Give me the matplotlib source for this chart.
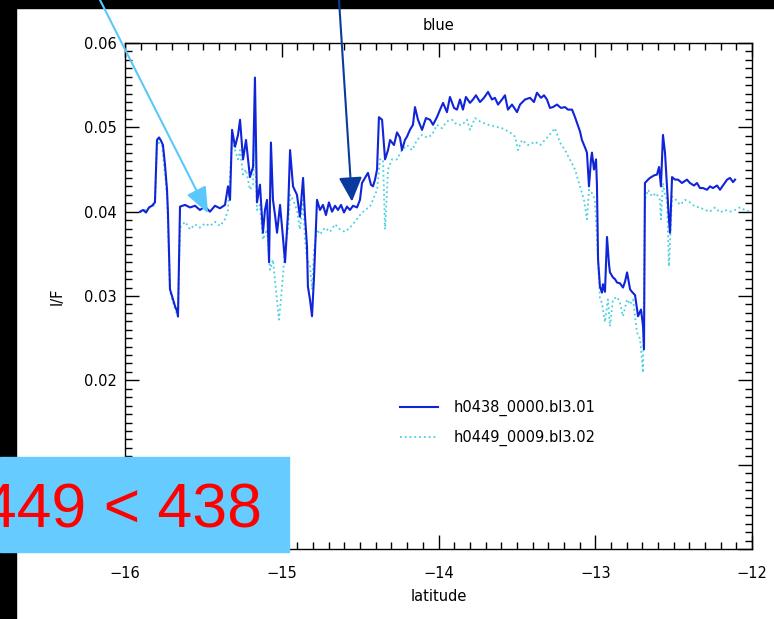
import matplotlib
matplotlib.use("Agg")
import matplotlib.pyplot as plt
from matplotlib.ticker import MultipleLocator, FixedFormatter
from matplotlib.patches import Rectangle

# h0438_0000.bl3.01 (solid)
lat_0438 = [-15.904, -15.885, -15.866, -15.847, -15.828, -15.809, -15.796, -15.783, -15.770, -15.758,
            -15.745, -15.732, -15.726, -15.713, -15.694, -15.681, -15.668, -15.662, -15.649, -15.617,
            -15.585, -15.553, -15.522, -15.490, -15.458, -15.426, -15.394, -15.362, -15.343, -15.330,
            -15.317, -15.298, -15.279, -15.266, -15.247, -15.228, -15.203, -15.183, -15.171, -15.158,
            -15.139, -15.120, -15.107, -15.094, -15.081, -15.069, -15.056, -15.043, -15.030, -15.011,
            -14.992, -14.979, -14.960, -14.947, -14.928, -14.903, -14.884, -14.864, -14.852, -14.839,
            -14.833, -14.820, -14.807, -14.794, -14.775, -14.756, -14.737, -14.718, -14.699, -14.679,
            -14.660, -14.641, -14.622, -14.603, -14.584, -14.565, -14.545, -14.520, -14.501, -14.488,
            -14.469, -14.450, -14.431, -14.418, -14.405, -14.392, -14.380, -14.360, -14.341, -14.322,
            -14.309, -14.284, -14.265, -14.246, -14.233, -14.214, -14.201, -14.182, -14.163, -14.150,
            -14.131, -14.105, -14.080, -14.054, -14.035, -14.010, -13.990, -13.971, -13.946, -13.927,
            -13.901, -13.882, -13.863, -13.844, -13.825, -13.799, -13.780, -13.761, -13.735, -13.710,
            -13.684, -13.659, -13.640, -13.620, -13.595, -13.576, -13.557, -13.531, -13.499, -13.480,
            -13.448, -13.416, -13.391, -13.372, -13.346, -13.327, -13.308, -13.289, -13.270, -13.244,
            -13.219, -13.193, -13.174, -13.148, -13.129, -13.116, -13.097, -13.085, -13.065, -13.053,
            -13.040, -13.027, -13.021, -13.008, -12.995, -12.989, -12.982, -12.970, -12.957, -12.951,
            -12.938, -12.925, -12.912, -12.906, -12.887, -12.874, -12.861, -12.842, -12.823, -12.810,
            -12.797, -12.778, -12.766, -12.746, -12.727, -12.708, -12.695, -12.689, -12.683, -12.663,
            -12.651, -12.625, -12.606, -12.593, -12.581, -12.568, -12.555, -12.542, -12.530, -12.523,
            -12.510, -12.491, -12.472, -12.447, -12.415, -12.396, -12.370, -12.351, -12.332, -12.313,
            -12.287, -12.268, -12.249, -12.223, -12.204, -12.185, -12.159, -12.140, -12.121, -12.108]
if_0438 = [0.0400, 0.0402, 0.0399, 0.0405, 0.0407, 0.0411, 0.0485, 0.0488, 0.0484, 0.0479,
           0.0456, 0.0426, 0.0399, 0.0308, 0.0296, 0.0288, 0.0282, 0.0276, 0.0406, 0.0408,
           0.0405, 0.0407, 0.0402, 0.0406, 0.0400, 0.0407, 0.0404, 0.0408, 0.0430, 0.0414,
           0.0497, 0.0477, 0.0491, 0.0509, 0.0462, 0.0485, 0.0441, 0.0453, 0.0559, 0.0411,
           0.0432, 0.0375, 0.0402, 0.0414, 0.0340, 0.0482, 0.0414, 0.0396, 0.0375, 0.0408,
           0.0369, 0.0340, 0.0399, 0.0473, 0.0430, 0.0420, 0.0394, 0.0440, 0.0396, 0.0359,
           0.0311, 0.0296, 0.0276, 0.0323, 0.0414, 0.0402, 0.0408, 0.0396, 0.0411, 0.0400,
           0.0407, 0.0402, 0.0408, 0.0399, 0.0406, 0.0402, 0.0407, 0.0405, 0.0414, 0.0434,
           0.0440, 0.0446, 0.0432, 0.0430, 0.0438, 0.0450, 0.0512, 0.0509, 0.0462, 0.0473,
           0.0485, 0.0479, 0.0494, 0.0488, 0.0473, 0.0485, 0.0489, 0.0497, 0.0503, 0.0524,
           0.0509, 0.0497, 0.0511, 0.0509, 0.0503, 0.0512, 0.0521, 0.0529, 0.0518, 0.0536,
           0.0523, 0.0521, 0.0533, 0.0521, 0.0536, 0.0529, 0.0533, 0.0538, 0.0530, 0.0535,
           0.0542, 0.0533, 0.0535, 0.0527, 0.0533, 0.0538, 0.0521, 0.0527, 0.0518, 0.0527,
           0.0533, 0.0535, 0.0530, 0.0541, 0.0535, 0.0538, 0.0533, 0.0523, 0.0524, 0.0527,
           0.0523, 0.0524, 0.0521, 0.0521, 0.0512, 0.0505, 0.0495, 0.0485, 0.0476, 0.0470,
           0.0430, 0.0462, 0.0470, 0.0450, 0.0462, 0.0430, 0.0343, 0.0311, 0.0304, 0.0314,
           0.0305, 0.0370, 0.0337, 0.0328, 0.0322, 0.0320, 0.0316, 0.0315, 0.0310, 0.0317,
           0.0328, 0.0308, 0.0305, 0.0301, 0.0276, 0.0284, 0.0264, 0.0237, 0.0434, 0.0438,
           0.0440, 0.0443, 0.0444, 0.0453, 0.0430, 0.0491, 0.0470, 0.0430, 0.0391, 0.0375,
           0.0441, 0.0438, 0.0438, 0.0434, 0.0438, 0.0434, 0.0431, 0.0434, 0.0428, 0.0428,
           0.0426, 0.0430, 0.0428, 0.0431, 0.0426, 0.0431, 0.0438, 0.0440, 0.0435, 0.0438]

# h0449_0009.bl3.02 (dotted)
lat_0449 = [-15.904, -15.809, -15.796, -15.764, -15.732, -15.713, -15.681, -15.662, -15.649, -15.617,
            -15.585, -15.553, -15.522, -15.490, -15.458, -15.426, -15.394, -15.362, -15.343, -15.330,
            -15.317, -15.298, -15.279, -15.266, -15.247, -15.228, -15.203, -15.183, -15.171, -15.158,
            -15.139, -15.120, -15.094, -15.075, -15.056, -15.037, -15.018, -15.005, -14.992, -14.979,
            -14.960, -14.947, -14.928, -14.903, -14.884, -14.864, -14.852, -14.839, -14.820, -14.807,
            -14.794, -14.775, -14.756, -14.724, -14.692, -14.660, -14.628, -14.597, -14.565, -14.533,
            -14.501, -14.469, -14.437, -14.418, -14.392, -14.373, -14.354, -14.341, -14.322, -14.297,
            -14.265, -14.233, -14.201, -14.169, -14.137, -14.105, -14.073, -14.041, -14.010, -13.978,
            -13.946, -13.914, -13.882, -13.850, -13.818, -13.799, -13.767, -13.735, -13.684, -13.640,
            -13.595, -13.544, -13.512, -13.493, -13.467, -13.429, -13.384, -13.352, -13.301, -13.257,
            -13.225, -13.193, -13.129, -13.097, -13.072, -13.053, -13.040, -13.021, -13.002, -12.982,
            -12.970, -12.957, -12.938, -12.919, -12.906, -12.887, -12.861, -12.842, -12.823, -12.797,
            -12.778, -12.759, -12.734, -12.714, -12.695, -12.683, -12.663, -12.638, -12.612, -12.587,
            -12.581, -12.568, -12.555, -12.542, -12.530, -12.510, -12.485, -12.459, -12.427, -12.396,
            -12.364, -12.332, -12.300, -12.268, -12.236, -12.204, -12.172, -12.140, -12.108, -12.077,
            -12.045, -12.013]
if_0449 = [0.0399, 0.0408, 0.0483, 0.0479, 0.0420, 0.0305, 0.0285, 0.0275, 0.0381, 0.0388,
           0.0379, 0.0385, 0.0381, 0.0386, 0.0383, 0.0388, 0.0383, 0.0391, 0.0402, 0.0444,
           0.0485, 0.0473, 0.0462, 0.0473, 0.0444, 0.0450, 0.0426, 0.0432, 0.0485, 0.0402,
           0.0408, 0.0367, 0.0379, 0.0331, 0.0343, 0.0308, 0.0272, 0.0296, 0.0325, 0.0355,
           0.0379, 0.0420, 0.0414, 0.0402, 0.0379, 0.0414, 0.0367, 0.0343, 0.0337, 0.0308,
           0.0355, 0.0379, 0.0373, 0.0381, 0.0376, 0.0385, 0.0379, 0.0376, 0.0381, 0.0388,
           0.0396, 0.0402, 0.0406, 0.0414, 0.0426, 0.0462, 0.0462, 0.0379, 0.0450, 0.0462,
           0.0462, 0.0473, 0.0479, 0.0473, 0.0485, 0.0491, 0.0488, 0.0491, 0.0503, 0.0499,
           0.0507, 0.0509, 0.0503, 0.0503, 0.0509, 0.0497, 0.0511, 0.0507, 0.0503, 0.0501,
           0.0499, 0.0494, 0.0489, 0.0473, 0.0485, 0.0479, 0.0483, 0.0479, 0.0489, 0.0499,
           0.0482, 0.0473, 0.0450, 0.0430, 0.0414, 0.0391, 0.0426, 0.0422, 0.0414, 0.0343,
           0.0296, 0.0292, 0.0269, 0.0296, 0.0264, 0.0296, 0.0299, 0.0292, 0.0276, 0.0296,
           0.0290, 0.0296, 0.0257, 0.0249, 0.0209, 0.0414, 0.0426, 0.0418, 0.0422, 0.0414,
           0.0391, 0.0434, 0.0420, 0.0414, 0.0335, 0.0418, 0.0414, 0.0408, 0.0414, 0.0411,
           0.0406, 0.0405, 0.0402, 0.0400, 0.0405, 0.0399, 0.0402, 0.0400, 0.0402, 0.0405,
           0.0402, 0.0400]

series_labels = ["h0438_0000.bl3.01", "h0449_0009.bl3.02"]
x_ticks = [-16, -15, -14, -13, -12]
y_ticks = [0.00, 0.01, 0.02, 0.03, 0.04, 0.05, 0.06]
y_tick_labels = ["", "0.01", "0.02", "0.03", "0.04", "0.05", "0.06"]

W, H = 774, 619
fs = 10.5

fig = plt.figure(figsize=(W / 100, H / 100), dpi=100)
ax = fig.add_axes([125 / W, (H - 549) / H, 627 / W, 506 / H])

# black borders of the screenshot
fig.add_artist(Rectangle((0, 1 - 8 / H), 1, 8 / H, transform=fig.transFigure,
                         color="black", zorder=-1))
fig.add_artist(Rectangle((0, 0), 16 / W, 1, transform=fig.transFigure,
                         color="black", zorder=-1))

l2, = ax.plot(lat_0449, if_0449, ls=":", color="#48d0e0", lw=1.3, zorder=2)
l1, = ax.plot(lat_0438, if_0438, ls="-", color="#1024d8", lw=1.5, zorder=3)

ax.set(xlim=(-16, -12), ylim=(0, 0.06))
ax.set_xticks(x_ticks)
ax.set_yticks(y_ticks)
ax.yaxis.set_major_formatter(FixedFormatter(y_tick_labels))
ax.xaxis.set_minor_locator(MultipleLocator(0.1))
ax.yaxis.set_minor_locator(MultipleLocator(0.001))
ax.tick_params(which="both", direction="in", top=True, right=True, width=1,
               labelsize=fs)
ax.tick_params(which="major", length=10)
ax.tick_params(which="minor", length=5)
ax.tick_params(axis="x", pad=12)
ax.tick_params(axis="y", pad=6)
for s in ax.spines.values():
    s.set_linewidth(1)

ax.set_title("blue", fontsize=fs, pad=9)
ax.set_xlabel("latitude", fontsize=fs, labelpad=6)
ax.set_ylabel("I/F", fontsize=fs, labelpad=14)

ax.legend([l1, l2], series_labels, loc="upper left",
          bbox_to_anchor=(0.4386, 0.295), frameon=False, fontsize=fs,
          borderpad=0, borderaxespad=0, handlelength=2.6, handletextpad=1.1,
          labelspacing=0.95)

# arrows coming from the top edge
ax.annotate("", xy=(-15.47, 0.0398), xytext=(100 / W, 1.0),
            textcoords="figure fraction", annotation_clip=False,
            arrowprops=dict(arrowstyle="-|>,head_length=1.6,head_width=0.65",
                            color="#5ac8fa", lw=1.5, shrinkA=0, shrinkB=0,
                            mutation_scale=10))
ax.annotate("", xy=(-14.552, 0.0412), xytext=(339 / W, 1.0),
            textcoords="figure fraction", annotation_clip=False,
            arrowprops=dict(arrowstyle="-|>,head_length=1.5,head_width=0.72",
                            color="#0b3a9e", lw=1.5, shrinkA=0, shrinkB=0,
                            mutation_scale=10))

# label box in the lower left
fig.add_artist(Rectangle((0, (H - 552) / H), 289 / W, 95 / H,
                         transform=fig.transFigure, color="#66ccff", zorder=5))
fig.text(262 / W, (H - 528) / H, "449 < 438", color="#ff0000", fontsize=45,
         family="Liberation Sans", ha="right", va="baseline", zorder=6)

fig.savefig("out.png", dpi=100)
